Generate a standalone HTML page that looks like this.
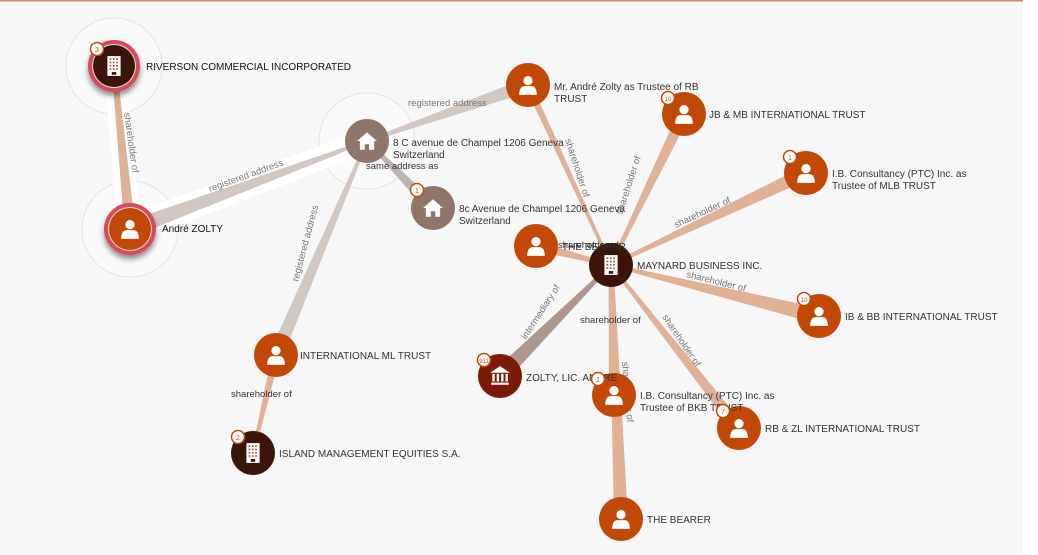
<!DOCTYPE html>
<html><head><meta charset="utf-8"><style>
html,body{margin:0;padding:0;background:#fff;}
svg{display:block;font-family:"Liberation Sans",sans-serif;}
.l{font-size:10px;fill:#333;}
.e{font-size:9.5px;fill:#777;}
.b{font-size:7px;fill:#c44a0a;text-anchor:middle;}
</style></head><body>
<svg id="s" width="1038" height="555" viewBox="0 0 1038 555">
<defs>
<symbol id="person" viewBox="-10 -10 20 20"><circle cx="0" cy="-4" r="4.2" fill="#fff"/><path d="M-8 9 Q-8 1 -3 1 L3 1 Q8 1 8 9 Z" fill="#fff"/></symbol>
<symbol id="bldg" viewBox="-10 -10 20 20"><rect x="-6" y="-9" width="12" height="18" fill="#fff"/><g fill="#a0522d"><rect x="-4" y="-7" width="1.5" height="1.5"/><rect x="-1" y="-7" width="1.5" height="1.5"/><rect x="2" y="-7" width="1.5" height="1.5"/><rect x="-4" y="-4" width="1.5" height="1.5"/><rect x="-1" y="-4" width="1.5" height="1.5"/><rect x="2" y="-4" width="1.5" height="1.5"/><rect x="-4" y="-1" width="1.5" height="1.5"/><rect x="-1" y="-1" width="1.5" height="1.5"/><rect x="2" y="-1" width="1.5" height="1.5"/><rect x="-4" y="2" width="1.5" height="1.5"/><rect x="-1" y="2" width="1.5" height="1.5"/><rect x="2" y="2" width="1.5" height="1.5"/></g><rect x="-2" y="5.5" width="4" height="2.5" fill="#3a1508"/></symbol>
<symbol id="house" viewBox="-10 -10 20 20"><path d="M-9 0 L0 -8 L9 0 L6.5 0 L6.5 8 L2 8 L2 3 L-2 3 L-2 8 L-6.5 8 L-6.5 0 Z" fill="#fff"/></symbol>
<symbol id="bank" viewBox="-10 -10 20 20"><path d="M-9 -3 L0 -9 L9 -3 Z M-8 6 L8 6 L8 8 L-8 8 Z" fill="#fff"/><g fill="#fff"><rect x="-7" y="-2" width="2.2" height="7"/><rect x="-3" y="-2" width="2.2" height="7"/><rect x="1" y="-2" width="2.2" height="7"/><rect x="5" y="-2" width="2.2" height="7"/></g></symbol>
<filter id="sh" x="-50%" y="-50%" width="200%" height="200%"><feDropShadow dx="0" dy="4" stdDeviation="3" flood-color="#000" flood-opacity="0.45"/></filter>
</defs>
<rect x="0" y="0" width="1023" height="555" fill="#f7f7f7"/>
<rect x="0" y="0" width="1023" height="1.5" fill="#c98a70"/>
<circle cx="114" cy="66" r="48" fill="#fafafa" stroke="#e4e4e4"/>
<circle cx="130" cy="229" r="48" fill="#fafafa" stroke="#e4e4e4"/>
<circle cx="367" cy="141" r="48" fill="#fafafa" stroke="#e4e4e4"/>
<g id="edges"></g>
<g class="e">
<text transform="translate(124,113) rotate(82)">shareholder of</text>
<text transform="translate(210,192) rotate(-20)">registered address</text>
<text x="408" y="106">registered address</text>
<text x="366" y="169" fill="#333">same address as</text>
<text transform="translate(298,282) rotate(-75)">registered address</text>
<text transform="translate(565,140) rotate(72)">shareholder of</text>
<text transform="translate(622,215) rotate(-72)">shareholder of</text>
<text transform="translate(676,228) rotate(-25)">shareholder of</text>
<text transform="translate(686,277) rotate(14)">shareholder of</text>
<text transform="translate(526,340) rotate(-57)">intermediary of</text>
<text x="580" y="323" fill="#333">shareholder of</text>
<text transform="translate(662,317) rotate(56)">shareholder of</text>
<text transform="translate(622,362) rotate(85)">shareholder of</text>
<text x="231" y="397" fill="#333">shareholder of</text>
<text x="558" y="248" fill="#333">shareholder of</text>
</g>
<g id="nodes"></g>
<g class="l">
<text x="146" y="70" fill="#111">RIVERSON COMMERCIAL INCORPORATED</text>
<text x="162" y="232" fill="#111">André ZOLTY</text>
<text x="393" y="146">8 C avenue de Champel 1206 Geneva</text>
<text x="393" y="158">Switzerland</text>
<text x="459" y="212">8c Avenue de Champel 1206 Geneva</text>
<text x="459" y="224">Switzerland</text>
<text x="554" y="90">Mr. André Zolty as Trustee of RB</text>
<text x="554" y="102">TRUST</text>
<text x="709" y="118">JB &amp; MB INTERNATIONAL TRUST</text>
<text x="832" y="177">I.B. Consultancy (PTC) Inc. as</text>
<text x="832" y="189">Trustee of MLB TRUST</text>
<text x="562" y="250">THE BEARER</text>
<text x="637" y="269">MAYNARD BUSINESS INC.</text>
<text x="845" y="320">IB &amp; BB INTERNATIONAL TRUST</text>
<text x="300" y="359">INTERNATIONAL ML TRUST</text>
<text x="526" y="381">ZOLTY, LIC. ANDRE</text>
<text x="640" y="399">I.B. Consultancy (PTC) Inc. as</text>
<text x="640" y="411">Trustee of BKB TRUST</text>
<text x="765" y="432">RB &amp; ZL INTERNATIONAL TRUST</text>
<text x="279" y="457">ISLAND MANAGEMENT EQUITIES S.A.</text>
<text x="647" y="523">THE BEARER</text>
</g>
<g id="badges"></g>
<g class="b">
<text x="97" y="52">3</text>
<text x="417" y="193">1</text>
<text x="668" y="101" font-size="6">10</text>
<text x="790" y="160">1</text>
<text x="804" y="302" font-size="6">10</text>
<text x="484" y="363" font-size="6">911</text>
<text x="598" y="382">1</text>
<text x="723" y="414">7</text>
<text x="238" y="440">2</text>
</g>
<script>
var NS="http://www.w3.org/2000/svg";
function el(p,t,a){var e=document.createElementNS(NS,t);for(var k in a)e.setAttribute(k,a[k]);p.appendChild(e);return e;}
var E=document.getElementById("edges"),N=document.getElementById("nodes"),B=document.getElementById("badges");
function wedge(x1,y1,w1,x2,y2,w2,c){var dx=x2-x1,dy=y2-y1,L=Math.hypot(dx,dy),nx=-dy/L,ny=dx/L;
el(E,"polygon",{points:[x1+nx*w1/2,y1+ny*w1/2,x2+nx*w2/2,y2+ny*w2/2,x2-nx*w2/2,y2-ny*w2/2,x1-nx*w1/2,y1-ny*w1/2].join(","),fill:c});}
var O="#e1b196",G="#d2c8c3";
wedge(114,66,22,130,229,22,"#fff");
wedge(130,229,28,367,141,22,"#fff");
wedge(114,66,5,130,229,11,O);
wedge(130,229,16,367,141,3,G);
wedge(367,141,3,528,85,14,G);
wedge(367,141,3,433,208,12,"#bdb5b2");
wedge(367,141,3,276,355,14,G);
wedge(276,355,8,253,453,3,O);
wedge(528,85,7,611,265,3,O);
wedge(684,114,12,611,265,3,O);
wedge(806,173,14,611,265,3,O);
wedge(536,246,10,611,265,3,O);
wedge(819,316,16,611,265,3,O);
wedge(500,376,16,611,265,3,"#ad978f");
wedge(614,395,10,611,265,5,O);
wedge(739,428,12,611,265,3,O);
wedge(621,519,14,611,265,5,O);
function node(x,y,c,ic,r,ring){r=r||22;
if(ring){el(N,"circle",{cx:x,cy:y,r:r+5,fill:"#d94a5a",filter:"url(#sh)"});el(N,"circle",{cx:x,cy:y,r:r+1,fill:"#ddd"});}
el(N,"circle",{cx:x,cy:y,r:r,fill:c});
el(N,"use",{href:"#"+ic,x:x-11,y:y-11,width:22,height:22});}
var OR="#c24806",DK="#3a1508",BR="#8f7669";
node(114,66,DK,"bldg",21,1);
node(130,229,OR,"person",21,1);
node(367,141,BR,"house",22);
node(433,208,BR,"house",22);
node(528,85,OR,"person",22);
node(684,114,OR,"person",22);
node(806,173,OR,"person",22);
node(536,246,OR,"person",22);
node(611,265,DK,"bldg",22);
node(819,316,OR,"person",22);
node(276,355,OR,"person",22);
node(500,376,"#7c1a06","bank",22);
node(614,395,OR,"person",22);
node(739,428,OR,"person",22);
node(621,519,OR,"person",22);
node(253,453,DK,"bldg",22);
[[97,49],[417,190],[668,98],[790,157],[804,299],[484,360],[598,379],[723,411],[238,437]].forEach(function(p){el(B,"circle",{cx:p[0],cy:p[1],r:6.5,fill:"#fff",stroke:"#c24806","stroke-width":1.5});});
</script>
</svg>
</body></html>
